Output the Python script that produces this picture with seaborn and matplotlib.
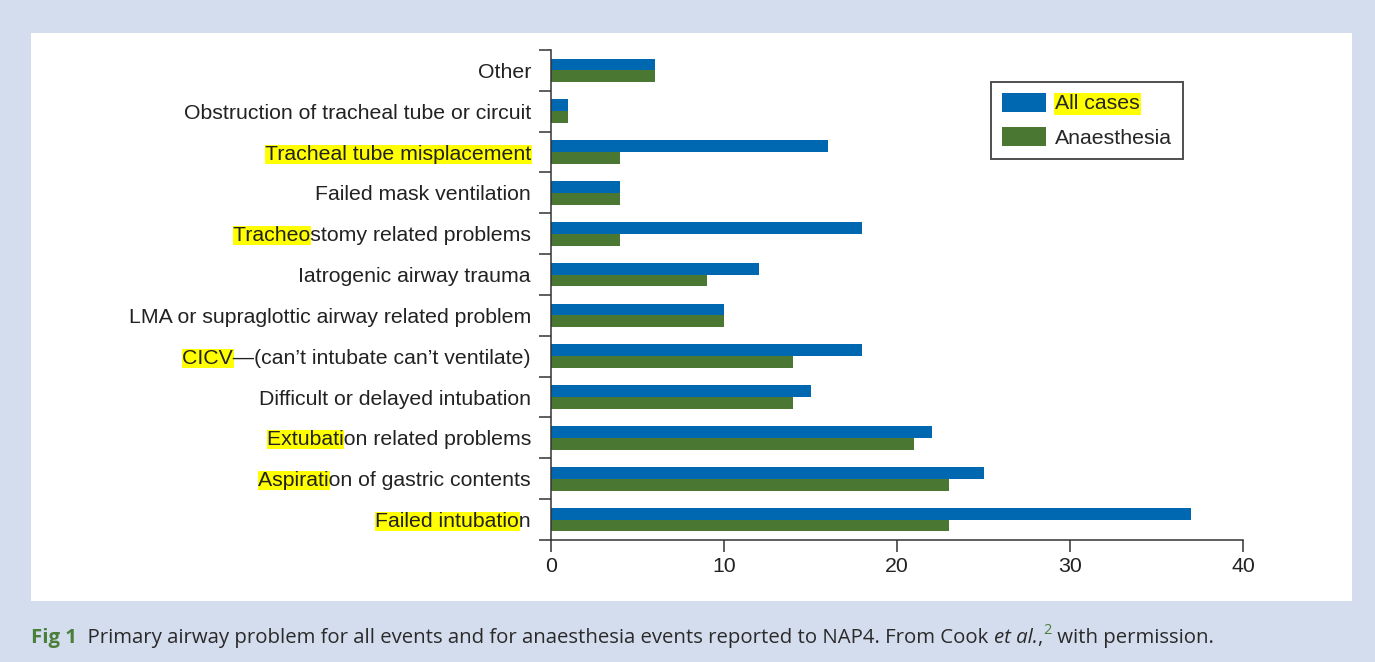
import pandas as pd
import numpy as np
import seaborn as sns
import matplotlib.pyplot as plt
from matplotlib.patches import Rectangle, Patch

problems = ["Other",
            "Obstruction of tracheal tube or circuit",
            "Tracheal tube misplacement",
            "Failed mask ventilation",
            "Tracheostomy related problems",
            "Iatrogenic airway trauma",
            "LMA or supraglottic airway related problem",
            "CICV\u2014(can\u2019t intubate can\u2019t ventilate)",
            "Difficult or delayed intubation",
            "Extubation related problems",
            "Aspiration of gastric contents",
            "Failed intubation"]
all_cases = [6, 1, 16, 4, 18, 12, 10, 18, 15, 22, 25, 37]
anaesthesia = [6, 1, 4, 4, 4, 9, 10, 14, 14, 21, 23, 23]
# the part of each label that is highlighted in yellow
marked = ["", "", "Tracheal tube misplacement", "", "Tracheo", "", "",
          "CICV", "", "Extubati", "Aspirati", "Failed intubatio"]
groups = ["All cases", "Anaesthesia"]
xticks = [0, 10, 20, 30, 40]

df = pd.DataFrame({"problem": problems * 2,
                   "count": all_cases + anaesthesia,
                   "group": [groups[0]] * len(problems) + [groups[1]] * len(problems)})

blue = "#0067b1"
green = "#4a7833"
yellow = "#ffff00"
border = "#d4ddee"
axcol = "#333333"
txtcol = "#222222"
capcol = "#2a2a2a"
figgreen = "#4a7f3a"

sns.set_style("white")
plt.rcParams["font.family"] = ["Liberation Sans", "DejaVu Sans"]

W, H = 1375, 662
fig = plt.figure(figsize=(W / 100, H / 100), dpi=100, facecolor=border)
fig.add_artist(Rectangle((31 / W, 1 - 601 / H), (1352 - 31) / W, (601 - 33) / H,
                         transform=fig.transFigure, facecolor="white",
                         edgecolor="none", zorder=-5))

ax = fig.add_axes([551 / W, 1 - 540 / H, (1243 - 551) / W, 490 / H])
ax.patch.set_alpha(0)

sns.barplot(data=df, x="count", y="problem", hue="group", order=problems,
            hue_order=groups, palette=[blue, green], saturation=1, width=0.58,
            orient="h", errorbar=None, linewidth=0, legend=False, ax=ax)

ax.set_xlim(0, 40)
ax.set_ylim(len(problems) - 0.5, -0.5)
ax.set_xticks(xticks)
ax.set_xticklabels([str(t) for t in xticks], fontsize=15.3, color=txtcol)
ax.set_yticks(np.arange(len(problems) + 1) - 0.5)
ax.set_yticklabels([])
ax.set_yticks(range(len(problems)), minor=True)
ax.set_yticklabels(problems, minor=True, fontsize=15.3, color=txtcol)
ax.tick_params(axis="y", which="major", left=True, length=8.6, width=1.1,
               color=axcol, direction="out")
ax.tick_params(axis="y", which="minor", left=True, length=0, pad=14.4)
ax.tick_params(axis="x", bottom=True, length=8.6, width=1.1, color=axcol,
               pad=4, direction="out")
ax.set_xlabel("")
ax.set_ylabel("")
sns.despine(ax=ax)
for s in ["left", "bottom"]:
    ax.spines[s].set_color(axcol)
    ax.spines[s].set_linewidth(1.1)

handles = [Patch(facecolor=blue, edgecolor="none"), Patch(facecolor=green, edgecolor="none")]
leg = ax.legend(handles, groups, loc="upper left",
                bbox_to_anchor=(991 / W, 1 - 82 / H), bbox_transform=fig.transFigure,
                borderaxespad=0, frameon=True, fancybox=False, fontsize=15.3,
                handlelength=2.1, handleheight=1.0, handletextpad=0.42,
                borderpad=0.5, labelspacing=0.65)
leg.get_frame().set_edgecolor(txtcol)
leg.get_frame().set_linewidth(1.4)
leg.get_texts()[0].set_bbox(dict(facecolor=yellow, edgecolor="none", pad=1))

# caption below the white panel, built piece by piece
cs = 14.7
prev = fig.text(31 / W, 1 - 643 / H, "Fig 1", fontsize=cs, weight="bold",
                color=figgreen, family="Open Sans", va="baseline")
pieces = [("  Primary airway problem for all events and for anaesthesia events "
           "reported to NAP4. From Cook ", "normal"),
          ("et al.", "italic"),
          (",", "normal")]
for txt, style in pieces:
    prev = ax.annotate(txt, xy=(1, 0), xycoords=prev, va="bottom", ha="left",
                       fontsize=cs, style=style, color=capcol, family="Open Sans",
                       annotation_clip=False)
sup = ax.annotate("2", xy=(1, 0), xycoords=prev, xytext=(0.5, 7.2),
                  textcoords="offset points", va="bottom", ha="left", fontsize=10.5,
                  color=figgreen, family="Open Sans", annotation_clip=False)
ax.annotate(" with permission.", xy=(1, 0), xycoords=sup, xytext=(0, -7.2),
            textcoords="offset points", va="bottom", ha="left", fontsize=cs,
            color=capcol, family="Open Sans", annotation_clip=False)

# yellow highlights behind parts of the tick labels
fig.canvas.draw()
r = fig.canvas.get_renderer()
for lab, pre in zip(ax.get_yticklabels(minor=True), marked):
    if not pre:
        continue
    bb = lab.get_window_extent(r)
    w, h, d = r.get_text_width_height_descent(pre, lab.get_fontproperties(), ismath=False)
    fig.add_artist(Rectangle((bb.x0 / W, bb.y0 / H), (w + 1) / W, bb.height / H,
                             transform=fig.transFigure, facecolor=yellow,
                             edgecolor="none", zorder=-1))

fig.savefig("out.png", dpi=100, facecolor=border)
